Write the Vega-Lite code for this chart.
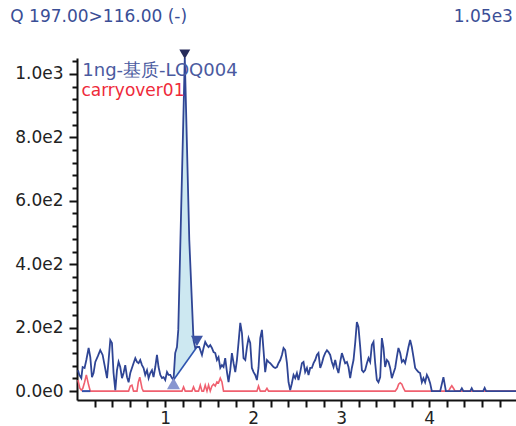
{
  "$schema": "https://vega.github.io/schema/vega-lite/v6.json",
  "width": 439,
  "height": 342,
  "autosize": {"type": "none"},
  "padding": {"left": 77, "top": 58, "right": 0, "bottom": 26},
  "background": "white",
  "config": {"view": {"stroke": null}, "font": "DejaVu Sans"},
  "datasets": {
    "blue": [
      {"x": 0.011, "y": 66}, {"x": 0.026, "y": 51}, {"x": 0.049, "y": 41}, {"x": 0.064, "y": 76}, {"x": 0.086, "y": 73},
      {"x": 0.106, "y": 98}, {"x": 0.132, "y": 136}, {"x": 0.151, "y": 107}, {"x": 0.170, "y": 44}, {"x": 0.188, "y": 57},
      {"x": 0.208, "y": 92}, {"x": 0.238, "y": 111}, {"x": 0.264, "y": 129}, {"x": 0.291, "y": 114}, {"x": 0.313, "y": 82},
      {"x": 0.341, "y": 41}, {"x": 0.359, "y": 98}, {"x": 0.378, "y": 161}, {"x": 0.397, "y": 152}, {"x": 0.415, "y": 57},
      {"x": 0.435, "y": 3}, {"x": 0.454, "y": 66}, {"x": 0.472, "y": 92}, {"x": 0.491, "y": 76}, {"x": 0.511, "y": 41},
      {"x": 0.529, "y": 57}, {"x": 0.548, "y": 82}, {"x": 0.568, "y": 44}, {"x": 0.586, "y": 28}, {"x": 0.605, "y": 57},
      {"x": 0.624, "y": 73}, {"x": 0.642, "y": 88}, {"x": 0.662, "y": 104}, {"x": 0.681, "y": 92}, {"x": 0.699, "y": 88},
      {"x": 0.718, "y": 98}, {"x": 0.738, "y": 82}, {"x": 0.756, "y": 73}, {"x": 0.775, "y": 51}, {"x": 0.795, "y": 66},
      {"x": 0.813, "y": 41}, {"x": 0.832, "y": 57}, {"x": 0.851, "y": 66}, {"x": 0.869, "y": 44}, {"x": 0.889, "y": 76},
      {"x": 0.908, "y": 114}, {"x": 0.926, "y": 76}, {"x": 0.946, "y": 51}, {"x": 0.965, "y": 41}, {"x": 0.983, "y": 44},
      {"x": 1.002, "y": 35}, {"x": 1.022, "y": 60}, {"x": 1.040, "y": 51}, {"x": 1.059, "y": 51}, {"x": 1.078, "y": 41},
      {"x": 1.096, "y": 35}, {"x": 1.115, "y": 120}, {"x": 1.135, "y": 139}, {"x": 1.150, "y": 193}, {"x": 1.224, "y": 1050},
      {"x": 1.275, "y": 477}, {"x": 1.323, "y": 161}, {"x": 1.343, "y": 136}, {"x": 1.362, "y": 139}, {"x": 1.388, "y": 139},
      {"x": 1.419, "y": 114}, {"x": 1.437, "y": 136}, {"x": 1.456, "y": 155}, {"x": 1.476, "y": 145}, {"x": 1.494, "y": 139},
      {"x": 1.513, "y": 145}, {"x": 1.532, "y": 136}, {"x": 1.551, "y": 123}, {"x": 1.570, "y": 120}, {"x": 1.589, "y": 98},
      {"x": 1.607, "y": 107}, {"x": 1.627, "y": 73}, {"x": 1.646, "y": 82}, {"x": 1.664, "y": 76}, {"x": 1.683, "y": 104},
      {"x": 1.703, "y": 60}, {"x": 1.721, "y": 28}, {"x": 1.740, "y": 66}, {"x": 1.759, "y": 120}, {"x": 1.778, "y": 88},
      {"x": 1.797, "y": 60}, {"x": 1.816, "y": 98}, {"x": 1.834, "y": 152}, {"x": 1.854, "y": 215}, {"x": 1.873, "y": 183},
      {"x": 1.891, "y": 104}, {"x": 1.911, "y": 98}, {"x": 1.930, "y": 139}, {"x": 1.948, "y": 167}, {"x": 1.967, "y": 152},
      {"x": 1.986, "y": 73}, {"x": 2.005, "y": 60}, {"x": 2.024, "y": 51}, {"x": 2.043, "y": 35}, {"x": 2.061, "y": 73},
      {"x": 2.081, "y": 167}, {"x": 2.100, "y": 193}, {"x": 2.118, "y": 129}, {"x": 2.137, "y": 60}, {"x": 2.157, "y": 98},
      {"x": 2.175, "y": 92}, {"x": 2.194, "y": 88}, {"x": 2.213, "y": 82}, {"x": 2.232, "y": 76}, {"x": 2.251, "y": 73},
      {"x": 2.270, "y": 76}, {"x": 2.288, "y": 88}, {"x": 2.308, "y": 98}, {"x": 2.327, "y": 114}, {"x": 2.345, "y": 136},
      {"x": 2.364, "y": 129}, {"x": 2.384, "y": 88}, {"x": 2.402, "y": 28}, {"x": 2.421, "y": 3}, {"x": 2.440, "y": 25},
      {"x": 2.459, "y": 51}, {"x": 2.478, "y": 41}, {"x": 2.497, "y": 57}, {"x": 2.515, "y": 35}, {"x": 2.535, "y": 60},
      {"x": 2.554, "y": 88}, {"x": 2.572, "y": 92}, {"x": 2.591, "y": 60}, {"x": 2.611, "y": 73}, {"x": 2.629, "y": 51},
      {"x": 2.648, "y": 73}, {"x": 2.667, "y": 73}, {"x": 2.686, "y": 88}, {"x": 2.705, "y": 98}, {"x": 2.724, "y": 114},
      {"x": 2.742, "y": 120}, {"x": 2.762, "y": 73}, {"x": 2.781, "y": 88}, {"x": 2.799, "y": 107}, {"x": 2.818, "y": 120},
      {"x": 2.838, "y": 129}, {"x": 2.856, "y": 123}, {"x": 2.875, "y": 114}, {"x": 2.894, "y": 92}, {"x": 2.913, "y": 76},
      {"x": 2.932, "y": 98}, {"x": 2.951, "y": 73}, {"x": 2.969, "y": 57}, {"x": 2.989, "y": 92}, {"x": 3.008, "y": 120},
      {"x": 3.026, "y": 104}, {"x": 3.045, "y": 88}, {"x": 3.065, "y": 92}, {"x": 3.083, "y": 76}, {"x": 3.102, "y": 41},
      {"x": 3.121, "y": 73}, {"x": 3.140, "y": 98}, {"x": 3.159, "y": 152}, {"x": 3.178, "y": 218}, {"x": 3.196, "y": 202},
      {"x": 3.216, "y": 139}, {"x": 3.235, "y": 66}, {"x": 3.253, "y": 60}, {"x": 3.272, "y": 66}, {"x": 3.292, "y": 88},
      {"x": 3.310, "y": 104}, {"x": 3.329, "y": 92}, {"x": 3.348, "y": 145}, {"x": 3.367, "y": 155}, {"x": 3.386, "y": 88},
      {"x": 3.405, "y": 35}, {"x": 3.423, "y": 28}, {"x": 3.443, "y": 44}, {"x": 3.462, "y": 167}, {"x": 3.480, "y": 136},
      {"x": 3.499, "y": 76}, {"x": 3.519, "y": 98}, {"x": 3.537, "y": 92}, {"x": 3.556, "y": 73}, {"x": 3.575, "y": 41},
      {"x": 3.594, "y": 57}, {"x": 3.613, "y": 73}, {"x": 3.632, "y": 107}, {"x": 3.650, "y": 136}, {"x": 3.670, "y": 120},
      {"x": 3.689, "y": 92}, {"x": 3.707, "y": 98}, {"x": 3.726, "y": 88}, {"x": 3.746, "y": 114}, {"x": 3.764, "y": 139},
      {"x": 3.783, "y": 161}, {"x": 3.802, "y": 139}, {"x": 3.821, "y": 107}, {"x": 3.840, "y": 73}, {"x": 3.859, "y": 66},
      {"x": 3.877, "y": 60}, {"x": 3.896, "y": 57}, {"x": 3.916, "y": 28}, {"x": 3.934, "y": 41}, {"x": 3.953, "y": 28},
      {"x": 3.973, "y": 51}, {"x": 3.991, "y": 41}, {"x": 4.010, "y": 25}, {"x": 4.029, "y": 0}, {"x": 4.124, "y": 0},
      {"x": 4.161, "y": 44}, {"x": 4.189, "y": 0}, {"x": 4.351, "y": 0}, {"x": 4.370, "y": 9}, {"x": 4.388, "y": 0},
      {"x": 4.465, "y": 0}, {"x": 4.482, "y": 9}, {"x": 4.499, "y": 0}, {"x": 4.612, "y": 0}, {"x": 4.629, "y": 10},
      {"x": 4.646, "y": 0}, {"x": 4.985, "y": 0}
    ],
    "red": [
      {"x": 0.011, "y": 35}, {"x": 0.032, "y": 9}, {"x": 0.049, "y": 3}, {"x": 0.066, "y": 9}, {"x": 0.086, "y": 28},
      {"x": 0.106, "y": 51}, {"x": 0.132, "y": 19}, {"x": 0.151, "y": 0}, {"x": 0.586, "y": 0}, {"x": 0.605, "y": 16},
      {"x": 0.624, "y": 19}, {"x": 0.642, "y": 0}, {"x": 0.681, "y": 0}, {"x": 0.696, "y": 28}, {"x": 0.713, "y": 44},
      {"x": 0.738, "y": 9}, {"x": 0.753, "y": 0}, {"x": 1.192, "y": 0}, {"x": 1.210, "y": 13}, {"x": 1.229, "y": 0},
      {"x": 1.305, "y": 0}, {"x": 1.323, "y": 13}, {"x": 1.343, "y": 0}, {"x": 1.380, "y": 0}, {"x": 1.400, "y": 19},
      {"x": 1.419, "y": 0}, {"x": 1.437, "y": 0}, {"x": 1.456, "y": 19}, {"x": 1.476, "y": 0}, {"x": 1.494, "y": 19},
      {"x": 1.513, "y": 0}, {"x": 1.532, "y": 16}, {"x": 1.551, "y": 22}, {"x": 1.570, "y": 16}, {"x": 1.589, "y": 29},
      {"x": 1.607, "y": 26}, {"x": 1.627, "y": 41}, {"x": 1.646, "y": 29}, {"x": 1.664, "y": 0}, {"x": 2.043, "y": 0},
      {"x": 2.061, "y": 16}, {"x": 2.081, "y": 0}, {"x": 2.137, "y": 0}, {"x": 2.157, "y": 9}, {"x": 2.175, "y": 0},
      {"x": 3.613, "y": 0}, {"x": 3.636, "y": 9}, {"x": 3.652, "y": 22}, {"x": 3.670, "y": 26}, {"x": 3.689, "y": 22},
      {"x": 3.707, "y": 9}, {"x": 3.726, "y": 0}, {"x": 4.218, "y": 0}, {"x": 4.237, "y": 9}, {"x": 4.256, "y": 17},
      {"x": 4.275, "y": 9}, {"x": 4.294, "y": 0}, {"x": 4.985, "y": 0}
    ],
    "area": [
      {"x": 1.096, "y": 35, "b": 35}, {"x": 1.115, "y": 120, "b": 42}, {"x": 1.135, "y": 139, "b": 50},
      {"x": 1.150, "y": 193, "b": 56}, {"x": 1.224, "y": 1050, "b": 85}, {"x": 1.275, "y": 477, "b": 105},
      {"x": 1.323, "y": 161, "b": 124}, {"x": 1.343, "y": 136, "b": 132}, {"x": 1.362, "y": 139, "b": 139}
    ],
    "baseline": [
      {"x": 1.096, "y": 35}, {"x": 1.362, "y": 139}
    ],
    "seg": [
      {"x": 0.057, "y": 0}, {"x": 0.151, "y": 0}
    ],
    "markers": [
      {"kind": "apex", "x": 1.224, "y": 1062},
      {"kind": "end", "x": 1.362, "y": 158},
      {"kind": "start", "x": 1.096, "y": 24}
    ],
    "one": [{}]
  },
  "layer": [
    {
      "data": {"name": "area"},
      "mark": {"type": "area", "color": "#cde8f1", "opacity": 1},
      "encoding": {
        "x": {
          "field": "x", "type": "quantitative",
          "scale": {"domain": [0, 4.985], "nice": false, "zero": false},
          "axis": {
            "title": null, "grid": false, "tickCount": 200,
            "values": [0.2, 0.4, 0.6, 0.8, 1, 1.2, 1.4, 1.6, 1.8, 2, 2.2, 2.4, 2.6, 2.8, 3, 3.2, 3.4, 3.6, 3.8, 4, 4.2, 4.4, 4.6, 4.8],
            "labelExpr": "datum.value % 1 === 0 ? datum.value : ''",
            "labelOverlap": false,
            "tickSize": 7, "tickWidth": 2, "tickColor": "#111",
            "domainColor": "#111", "domainWidth": 2,
            "labelFontSize": 17, "labelColor": "#222", "labelPadding": 3, "labelFont": "DejaVu Sans", "labelFlush": false
          }
        },
        "y": {
          "field": "y", "type": "quantitative",
          "scale": {"domain": [-28, 1050], "nice": false, "zero": false},
          "axis": {
            "title": null, "grid": false, "tickCount": 200,
            "values": [0, 40, 80, 120, 160, 200, 240, 280, 320, 360, 400, 440, 480, 520, 560, 600, 640, 680, 720, 760, 800, 840, 880, 920, 960, 1000, 1040],
            "labelExpr": "datum.value % 200 === 0 ? replace(format(datum.value, '.1e'), '+', '') : ''",
            "labelOverlap": false,
            "tickSize": {"condition": {"test": "datum.value % 200 === 0", "value": 8}, "value": 5},
            "tickWidth": 2, "tickColor": "#111",
            "domainColor": "#111", "domainWidth": 2,
            "labelFontSize": 17, "labelColor": "#222", "labelPadding": 6, "labelFont": "DejaVu Sans", "labelFlush": false
          }
        },
        "y2": {"field": "b"}
      }
    },
    {
      "data": {"name": "baseline"},
      "mark": {"type": "line", "color": "#2f55b0", "strokeWidth": 1.6},
      "encoding": {
        "x": {"field": "x", "type": "quantitative"},
        "y": {"field": "y", "type": "quantitative"}
      }
    },
    {
      "data": {"name": "red"},
      "mark": {"type": "line", "color": "#f0606f", "strokeWidth": 1.6},
      "encoding": {
        "x": {"field": "x", "type": "quantitative"},
        "y": {"field": "y", "type": "quantitative"}
      }
    },
    {
      "data": {"name": "seg"},
      "mark": {"type": "line", "color": "#3550a8", "strokeWidth": 2},
      "encoding": {
        "x": {"field": "x", "type": "quantitative"},
        "y": {"field": "y", "type": "quantitative"}
      }
    },
    {
      "data": {"name": "blue"},
      "mark": {"type": "line", "color": "#2f4595", "strokeWidth": 1.8},
      "encoding": {
        "x": {"field": "x", "type": "quantitative"},
        "y": {"field": "y", "type": "quantitative"}
      }
    },
    {
      "data": {"name": "markers"},
      "mark": {"type": "point", "filled": true, "opacity": 1},
      "encoding": {
        "x": {"field": "x", "type": "quantitative"},
        "y": {"field": "y", "type": "quantitative"},
        "shape": {"field": "kind", "type": "nominal", "legend": null,
          "scale": {"domain": ["apex", "end", "start"], "range": ["triangle-down", "triangle-down", "triangle-up"]}},
        "color": {"field": "kind", "type": "nominal", "legend": null,
          "scale": {"domain": ["apex", "end", "start"], "range": ["#262b5a", "#3d55a5", "#8795d0"]}},
        "size": {"field": "kind", "type": "nominal", "legend": null,
          "scale": {"domain": ["apex", "end", "start"], "range": [120, 170, 170]}}
      }
    },
    {
      "data": {"name": "one"},
      "mark": {"type": "text", "text": "1ng-基质-LOQ004", "align": "left", "baseline": "middle", "fontSize": 18, "font": "DejaVu Sans", "color": "#4a5aa0"},
      "encoding": {
        "x": {"datum": 0.06, "type": "quantitative"},
        "y": {"datum": 1010, "type": "quantitative"}
      }
    },
    {
      "data": {"name": "one"},
      "mark": {"type": "text", "text": "carryover01", "align": "left", "baseline": "middle", "fontSize": 17, "font": "DejaVu Sans", "color": "#ee2a3a"},
      "encoding": {
        "x": {"datum": 0.05, "type": "quantitative"},
        "y": {"datum": 947, "type": "quantitative"}
      }
    },
    {
      "data": {"name": "one"},
      "mark": {"type": "text", "text": "Q 197.00>116.00 (-)", "align": "left", "baseline": "middle", "fontSize": 17, "font": "DejaVu Sans", "color": "#3a4e96"},
      "encoding": {
        "x": {"datum": -0.757, "type": "quantitative"},
        "y": {"datum": 1178, "type": "quantitative"}
      }
    },
    {
      "data": {"name": "one"},
      "mark": {"type": "text", "text": "1.05e3", "align": "right", "baseline": "middle", "fontSize": 17, "font": "DejaVu Sans", "color": "#3a4e96"},
      "encoding": {
        "x": {"datum": 4.95, "type": "quantitative"},
        "y": {"datum": 1178, "type": "quantitative"}
      }
    }
  ]
}
